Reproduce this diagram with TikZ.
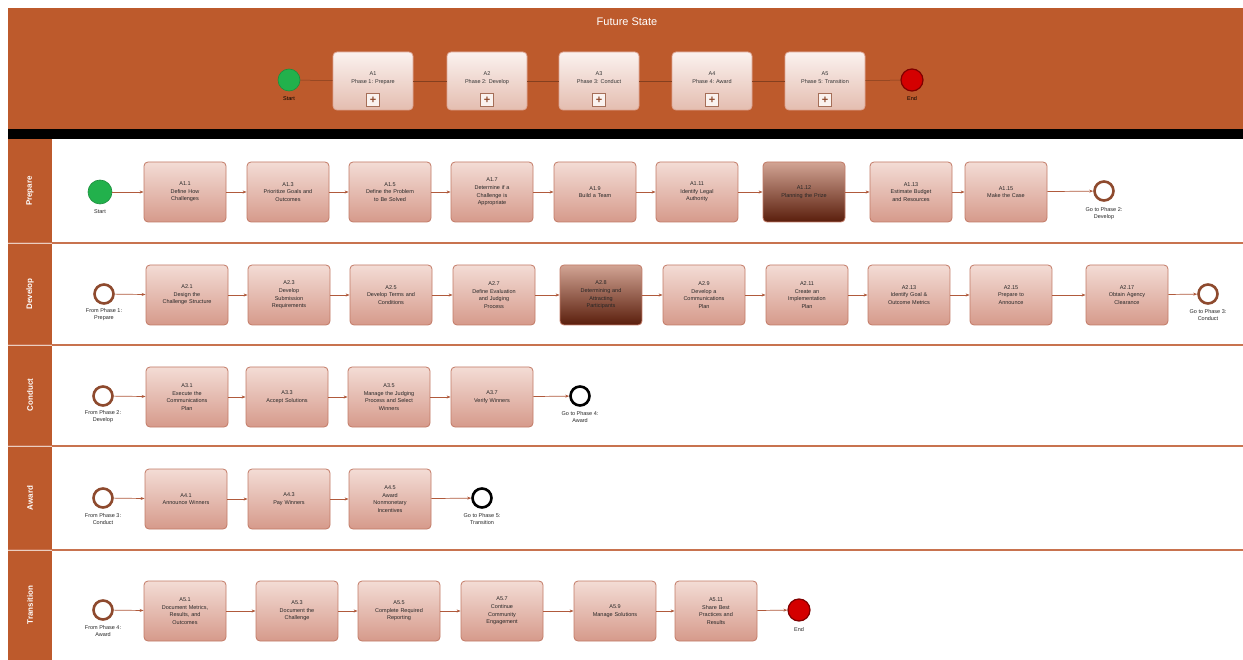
\documentclass[tikz,border=0pt]{standalone}
\usepackage{fontspec}
\setmainfont{Liberation Sans}
\usetikzlibrary{arrows.meta}
\definecolor{hdr}{HTML}{BD5A2C}
\definecolor{boxtop}{HTML}{F3DCD5}
\definecolor{boxbot}{HTML}{D69A8B}
\definecolor{boxline}{HTML}{C27A66}
\definecolor{darktop}{HTML}{D2A494}
\definecolor{darkbot}{HTML}{5A1E0C}
\definecolor{flowc}{HTML}{B05A3C}
\definecolor{evbrown}{HTML}{8E4A2E}
\definecolor{lanel}{HTML}{C8734F}
\definecolor{htop}{HTML}{FBF2EF}
\definecolor{hbot}{HTML}{E4BDB0}
\definecolor{hline}{HTML}{DDA594}
\definecolor{startg}{HTML}{22B14C}
\definecolor{endr}{HTML}{D40000}
\tikzset{
  x=1pt, y=-1pt,
  task/.style={draw=boxline, line width=0.8pt, rounded corners=4pt, top color=boxtop, bottom color=boxbot,
    minimum width=82pt, minimum height=60pt, text width=74pt, align=center, inner sep=0pt,
    font=\fontsize{5.5}{7.6}\selectfont, text=black!85},
  darktask/.style={task, top color=darktop, bottom color=darkbot},
  hbox/.style={draw=hline, line width=0.8pt, rounded corners=4pt, top color=htop, bottom color=hbot,
    minimum width=80pt, minimum height=58pt, inner sep=0pt},
  htext/.style={align=center, font=\fontsize{5.5}{8}\selectfont, text=black!80, inner sep=0pt},
  plusbox/.style={draw=evbrown!80, line width=0.8pt, fill=white!80!hbot, minimum size=13pt, inner sep=0pt,
    font=\fontsize{11}{11}\selectfont\bfseries, text=evbrown},
  flow/.style={draw=flowc, line width=0.7pt, -{Stealth[length=4pt,width=3pt]}},
  hflow/.style={draw=hdr!70!black, line width=0.5pt},
  startev/.style={circle, fill=startg, draw=startg!80!black, line width=0.6pt, minimum size=24pt, inner sep=0pt},
  endev/.style={circle, fill=endr, draw=endr!60!black, line width=1.2pt, minimum size=22pt, inner sep=0pt},
  midev/.style={circle, fill=white, draw=evbrown, line width=2.6pt, minimum size=19pt, inner sep=0pt},
  blkev/.style={circle, fill=white, draw=black, line width=2.6pt, minimum size=19pt, inner sep=0pt},
  evlbl/.style={align=center, font=\fontsize{5.5}{7}\selectfont, text=black!85, inner sep=0pt},
  lanelbl/.style={rotate=90, font=\fontsize{8}{8}\selectfont\bfseries, text=white, inner sep=0pt},
}
\begin{document}
\begin{tikzpicture}
\useasboundingbox (0,0) rectangle (1243,660);
\fill[white] (0,0) rectangle (1243,660);
% header
\fill[hdr] (8,8) rectangle (1243,129);
\fill[black] (8,129) rectangle (1243,139);
\node[font=\fontsize{11}{11}\selectfont, text=white] (title) at (627,22) {Future State};
% lanes
\fill[hdr] (8,139) rectangle (52,660);
\foreach \yy in {243,345,446,550}{ \draw[lanel, line width=1.6pt] (8,\yy) -- (1243,\yy); }
\foreach \yy in {243,345,446,550}{ \draw[white!70!hdr, line width=0.8pt] (8,\yy) -- (52,\yy); }
\node[lanelbl] (lp) at (30,191) {Prepare};
\node[lanelbl] (ld) at (30,294) {Develop};
\node[lanelbl] (lc) at (30,395) {Conduct};
\node[lanelbl] (la) at (30,498) {Award};
\node[lanelbl] (lt) at (30,605) {Transition};

% header process
\node[startev, minimum size=22pt] (hs) at (289,80) {};
\node[evlbl, text=black] (hsl) at (289,99) {Start};
\node[hbox] (h1) at (373,81) {};
\node[hbox] (h2) at (487,81) {};
\node[hbox] (h3) at (599,81) {};
\node[hbox] (h4) at (712,81) {};
\node[hbox] (h5) at (825,81) {};
\node[endev] (he) at (912,80) {};
\node[evlbl, text=black] (hel) at (912,99) {End};
\draw[hflow] (hs) -- (h1);
\draw[hflow] (h1) -- (h2);
\draw[hflow] (h2) -- (h3);
\draw[hflow] (h3) -- (h4);
\draw[hflow] (h4) -- (h5);
\draw[hflow] (h5) -- (he);
\node[htext] (h1t) at (373,78) {A1\\Phase 1: Prepare};
\node[htext] (h2t) at (487,78) {A2\\Phase 2: Develop};
\node[htext] (h3t) at (599,78) {A3\\Phase 3: Conduct};
\node[htext] (h4t) at (712,78) {A4\\Phase 4: Award};
\node[htext] (h5t) at (825,78) {A5\\Phase 5: Transition};
\node[plusbox] (h1p) at (373,100) {+};
\node[plusbox] (h2p) at (487,100) {+};
\node[plusbox] (h3p) at (599,100) {+};
\node[plusbox] (h4p) at (712,100) {+};
\node[plusbox] (h5p) at (825,100) {+};

% Prepare lane
\node[startev] (ps) at (100,192) {};
\node[evlbl] (psl) at (100,212) {Start};
\node[task] (p1) at (185,192) {A1.1\\Define How\\Challenges};
\node[task] (p2) at (288,192) {A1.3\\Prioritize Goals and\\Outcomes};
\node[task] (p3) at (390,192) {A1.5\\Define the Problem\\to Be Solved};
\node[task] (p4) at (492,192) {A1.7\\Determine if a\\Challenge is\\Appropriate};
\node[task] (p5) at (595,192) {A1.9\\Build a Team};
\node[task] (p6) at (697,192) {A1.11\\Identify Legal\\Authority};
\node[darktask] (p7) at (804,192) {A1.12\\Planning the Prize};
\node[task] (p8) at (911,192) {A1.13\\Estimate Budget\\and Resources};
\node[task] (p9) at (1006,192) {A1.15\\Make the Case};
\node[midev] (pe) at (1104,191) {};
\node[evlbl] (pel) at (1104,214) {Go to Phase 2:\\Develop};
\draw[flow] (ps) -- (p1);
\draw[flow] (p1) -- (p2);
\draw[flow] (p2) -- (p3);
\draw[flow] (p3) -- (p4);
\draw[flow] (p4) -- (p5);
\draw[flow] (p5) -- (p6);
\draw[flow] (p6) -- (p7);
\draw[flow] (p7) -- (p8);
\draw[flow] (p8) -- (p9);
\draw[flow] (p9) -- (pe);

% Develop lane
\node[midev] (ds) at (104,294) {};
\node[evlbl] (dsl) at (104,315) {From Phase 1:\\Prepare};
\node[task] (d1) at (187,295) {A2.1\\Design the\\Challenge Structure};
\node[task] (d2) at (289,295) {A2.3\\Develop\\Submission\\Requirements};
\node[task] (d3) at (391,295) {A2.5\\Develop Terms and\\Conditions};
\node[task] (d4) at (494,295) {A2.7\\Define Evaluation\\and Judging\\Process};
\node[darktask] (d5) at (601,295) {A2.8\\Determining and\\Attracting\\Participants};
\node[task] (d6) at (704,295) {A2.9\\Develop a\\Communications\\Plan};
\node[task] (d7) at (807,295) {A2.11\\Create an\\Implementation\\Plan};
\node[task] (d8) at (909,295) {A2.13\\Identify Goal \&\\Outcome Metrics};
\node[task] (d9) at (1011,295) {A2.15\\Prepare to\\Announce};
\node[task] (d10) at (1127,295) {A2.17\\Obtain Agency\\Clearance};
\node[midev] (de) at (1208,294) {};
\node[evlbl] (del) at (1208,315) {Go to Phase 3:\\Conduct};
\draw[flow] (ds) -- (d1);
\draw[flow] (d1) -- (d2);
\draw[flow] (d2) -- (d3);
\draw[flow] (d3) -- (d4);
\draw[flow] (d4) -- (d5);
\draw[flow] (d5) -- (d6);
\draw[flow] (d6) -- (d7);
\draw[flow] (d7) -- (d8);
\draw[flow] (d8) -- (d9);
\draw[flow] (d9) -- (d10);
\draw[flow] (d10) -- (de);

% Conduct lane
\node[midev] (cs) at (103,396) {};
\node[evlbl] (csl) at (103,417) {From Phase 2:\\Develop};
\node[task] (c1) at (187,397) {A3.1\\Execute the\\Communications\\Plan};
\node[task] (c2) at (287,397) {A3.3\\Accept Solutions};
\node[task] (c3) at (389,397) {A3.5\\Manage the Judging\\Process and Select\\Winners};
\node[task] (c4) at (492,397) {A3.7\\Verify Winners};
\node[blkev] (ce) at (580,396) {};
\node[evlbl] (cel) at (580,417) {Go to Phase 4:\\Award};
\draw[flow] (cs) -- (c1);
\draw[flow] (c1) -- (c2);
\draw[flow] (c2) -- (c3);
\draw[flow] (c3) -- (c4);
\draw[flow] (c4) -- (ce);

% Award lane
\node[midev] (as) at (103,498) {};
\node[evlbl] (asl) at (103,519) {From Phase 3:\\Conduct};
\node[task] (a1) at (186,499) {A4.1\\Announce Winners};
\node[task] (a2) at (289,499) {A4.3\\Pay Winners};
\node[task] (a3) at (390,499) {A4.5\\Award\\Nonmonetary\\Incentives};
\node[blkev] (ae) at (482,498) {};
\node[evlbl] (ael) at (482,519) {Go to Phase 5:\\Transition};
\draw[flow] (as) -- (a1);
\draw[flow] (a1) -- (a2);
\draw[flow] (a2) -- (a3);
\draw[flow] (a3) -- (ae);

% Transition lane
\node[midev] (ts) at (103,610) {};
\node[evlbl] (tsl) at (103,631) {From Phase 4:\\Award};
\node[task] (t1) at (185,611) {A5.1\\Document Metrics,\\Results, and\\Outcomes};
\node[task] (t2) at (297,611) {A5.3\\Document the\\Challenge};
\node[task] (t3) at (399,611) {A5.5\\Complete Required\\Reporting};
\node[task] (t4) at (502,611) {A5.7\\Continue\\Community\\Engagement};
\node[task] (t5) at (615,611) {A5.9\\Manage Solutions};
\node[task] (t6) at (716,611) {A5.11\\Share Best\\Practices and\\Results};
\node[endev] (te) at (799,610) {};
\node[evlbl] (tel) at (799,630) {End};
\draw[flow] (ts) -- (t1);
\draw[flow] (t1) -- (t2);
\draw[flow] (t2) -- (t3);
\draw[flow] (t3) -- (t4);
\draw[flow] (t4) -- (t5);
\draw[flow] (t5) -- (t6);
\draw[flow] (t6) -- (te);
\end{tikzpicture}
\end{document}
